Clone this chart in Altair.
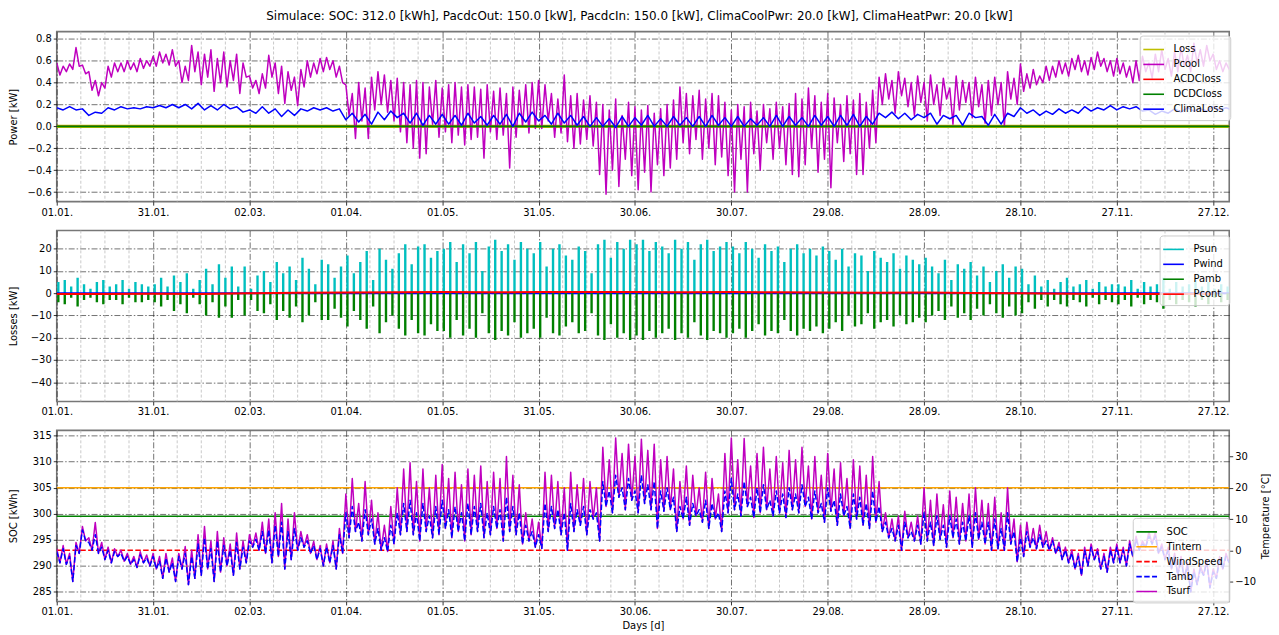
import altair as alt
import pandas as pd

TITLE = ("Simulace: SOC: 312.0 [kWh], PacdcOut: 150.0 [kW], PacdcIn: 150.0 [kW], "
         "ClimaCoolPwr: 20.0 [kW], ClimaHeatPwr: 20.0 [kW]")

X_TICKS = [0, 30, 60, 90, 120, 150, 180, 210, 240, 270, 300, 330, 360]
X_MINOR = [d + k * 7.5 for d in X_TICKS for k in (1, 2, 3) if d + k * 7.5 < 365]
P1_TICKS = [-0.6, -0.4, -0.2, 0.0, 0.2, 0.4, 0.6, 0.8]
P2_TICKS = [-40, -30, -20, -10, 0, 10, 20]
P3_TICKS = [285, 290, 295, 300, 305, 310, 315]
T_TICKS = [-10, 0, 10, 20, 30]

# ---------- panel 1 : Power [kW] (2-day high / low samples) ----------
FLAT_DAYS = [0, 365]
LOSS = [0.0, 0.0]
ACDC = [0.0, 0.0]
DCDC = [0.0, 0.0]

PCOOL_HI = [
    0.58, 0.55, 0.57, 0.72, 0.56, 0.50, 0.42, 0.40, 0.55, 0.58,
    0.58, 0.60, 0.58, 0.62, 0.60, 0.64, 0.68, 0.66, 0.70, 0.60,
    0.55, 0.74, 0.68, 0.66, 0.70, 0.62, 0.68, 0.60, 0.66, 0.58,
    0.46, 0.42, 0.48, 0.65, 0.58, 0.55, 0.50, 0.45, 0.52, 0.60,
    0.58, 0.62, 0.63, 0.60, 0.55,
    0.38, 0.30, 0.40, 0.35, 0.45, 0.50, 0.47, 0.42, 0.44, 0.40,
    0.38, 0.42, 0.40, 0.36, 0.42, 0.35, 0.38, 0.40, 0.36, 0.38,
    0.36, 0.34, 0.38, 0.32, 0.35, 0.30, 0.36, 0.33, 0.38, 0.40,
    0.42, 0.38, 0.30, 0.25, 0.47, 0.28, 0.30, 0.24, 0.28, 0.22,
    0.20, 0.15, 0.25, 0.10, 0.22, 0.18, 0.15, 0.19, 0.12, 0.16,
    0.20, 0.24, 0.36, 0.30, 0.28, 0.33, 0.25, 0.30, 0.28, 0.22,
    0.15, 0.20, 0.18, 0.22, 0.14, 0.20, 0.16, 0.22, 0.18, 0.21,
    0.30, 0.25, 0.35, 0.28, 0.22, 0.30, 0.26, 0.20, 0.28, 0.24,
    0.30, 0.22, 0.33, 0.45, 0.48, 0.42, 0.50, 0.44, 0.40, 0.46,
    0.40, 0.47, 0.38, 0.44, 0.35, 0.46, 0.42, 0.40, 0.45, 0.38,
    0.42, 0.45, 0.40, 0.50, 0.44, 0.57, 0.48, 0.52, 0.46, 0.55,
    0.55, 0.60, 0.58, 0.62, 0.65, 0.60, 0.63, 0.68, 0.62, 0.60,
    0.62, 0.58, 0.55, 0.60, 0.64, 0.58, 0.66, 0.70, 0.62, 0.68,
    0.72, 0.65, 0.76, 0.70, 0.74, 0.66, 0.60, 0.58]
PCOOL_LO = [
    0.47, 0.50, 0.52, 0.55, 0.48, 0.33, 0.28, 0.35, 0.45, 0.50,
    0.50, 0.52, 0.50, 0.53, 0.55, 0.55, 0.58, 0.56, 0.55, 0.40,
    0.42, 0.50, 0.38, 0.45, 0.32, 0.40, 0.36, 0.42, 0.30, 0.45,
    0.35, 0.30, 0.35, 0.45, 0.30, 0.21, 0.33, 0.19, 0.36, 0.45,
    0.48, 0.50, 0.52, 0.45, 0.40,
    0.10, -0.11, 0.05, -0.11, 0.15, 0.20, 0.13, 0.05, -0.05, -0.15,
    -0.20, -0.29, -0.25, 0.02, -0.10, -0.05, -0.15, -0.08, -0.17, -0.12,
    -0.10, -0.29, -0.05, -0.12, -0.08, -0.38, -0.10, 0.00, -0.06, -0.02,
    -0.02, 0.05, -0.10, -0.06, -0.14, -0.20, -0.16, -0.12, -0.18, -0.44,
    -0.62, -0.40, -0.55, -0.30, -0.45, -0.58, -0.42, -0.60, -0.35, -0.45,
    -0.38, -0.30, -0.15, -0.25, -0.12, -0.30, -0.20, -0.35, -0.28, -0.45,
    -0.60, -0.30, -0.60, -0.25, -0.40, -0.15, -0.30, -0.20, -0.35, -0.44,
    -0.46, -0.35, -0.20, -0.42, -0.30, -0.56, -0.15, -0.32, -0.25, -0.44,
    -0.44, -0.20, -0.15, 0.20, 0.25, 0.12, 0.28, 0.18, 0.10, 0.22,
    0.05, 0.20, 0.10, 0.25, 0.02, 0.15, 0.22, 0.08, 0.18, 0.03,
    0.10, 0.20, 0.00, 0.25, 0.20, 0.32, 0.35, 0.38, 0.40, 0.42,
    0.45, 0.48, 0.46, 0.52, 0.50, 0.47, 0.52, 0.55, 0.50, 0.46,
    0.48, 0.45, 0.40, 0.42, 0.50, 0.44, 0.50, 0.52, 0.46, 0.50,
    0.55, 0.50, 0.58, 0.55, 0.60, 0.52, 0.50, 0.52]

# 4-day high / low samples
CLIMA_HI = [
    0.17, 0.18, 0.16, 0.13, 0.17, 0.18, 0.17, 0.18, 0.19, 0.20,
    0.20, 0.21, 0.19, 0.20, 0.18, 0.15, 0.18, 0.16, 0.15, 0.16,
    0.17, 0.17, 0.16, 0.12, 0.11, 0.13, 0.14, 0.12, 0.12, 0.10,
    0.11, 0.10, 0.12, 0.09, 0.10, 0.11, 0.12, 0.13, 0.10, 0.12,
    0.10, 0.09, 0.08, 0.07, 0.09, 0.08, 0.10, 0.07, 0.09, 0.08,
    0.09, 0.10, 0.08, 0.09, 0.07, 0.08, 0.10, 0.09, 0.08, 0.10,
    0.09, 0.10, 0.11, 0.09, 0.12, 0.13, 0.12, 0.11, 0.12, 0.10,
    0.10, 0.12, 0.09, 0.11, 0.12, 0.17, 0.15, 0.14, 0.16, 0.15,
    0.18, 0.17, 0.19, 0.18, 0.18, 0.15, 0.14, 0.16, 0.17, 0.16, 0.18, 0.17]
CLIMA_LO = [
    0.15, 0.15, 0.10, 0.12, 0.15, 0.16, 0.16, 0.17, 0.17, 0.17,
    0.16, 0.15, 0.15, 0.16, 0.13, 0.12, 0.12, 0.09, 0.10, 0.14,
    0.15, 0.14, 0.06, 0.04, 0.02, 0.06, 0.08, 0.03, 0.01, 0.02,
    0.02, 0.01, 0.03, 0.01, 0.02, 0.00, 0.04, 0.05, 0.02, 0.03,
    0.01, 0.00, 0.00, -0.01, 0.00, 0.01, 0.00, 0.00, 0.01, 0.00,
    0.00, 0.01, 0.00, 0.00, 0.01, 0.00, 0.00, 0.01, 0.00, 0.01,
    0.00, 0.01, 0.00, 0.02, 0.08, 0.07, 0.06, 0.08, 0.02, 0.07,
    0.01, 0.08, 0.01, 0.02, 0.09, 0.12, 0.10, 0.11, 0.12, 0.12,
    0.14, 0.15, 0.15, 0.16, 0.14, 0.11, 0.12, 0.13, 0.14, 0.14, 0.15, 0.15]

# ---------- panel 2 : Losses [kW] (peak per 2 days) ----------
PSUN = [
    5, 6, 3, 7, 4, 2, 5, 6, 3, 4, 6, 2, 5, 4, 3,
    4, 7, 3, 8, 5, 9, 2, 6, 11, 4, 13, 7, 12, 3, 12,
    2, 8, 10, 5, 14, 9, 12, 6, 16, 11, 4, 15, 13, 7, 12,
    17, 9, 14, 19, 6, 20, 15, 11, 18, 22, 13, 21, 22, 16, 19,
    20, 23, 14, 22, 18, 23, 10, 21, 24, 19, 22, 15, 23, 20, 18,
    23, 12, 20, 22, 17, 15, 21, 19, 9, 22, 24, 16, 23, 20, 24,
    22, 24, 19, 23, 21, 18, 24, 20, 23, 15, 22, 24, 19, 21, 23,
    21, 18, 23, 20, 16, 22, 19, 21, 14, 20, 22, 18, 20, 17, 21,
    19, 15, 20, 12, 18, 17, 10, 19, 16, 14, 18, 11, 17, 15, 13,
    16, 12, 9, 15, 6, 13, 11, 14, 8, 12, 5, 10, 13, 7, 12,
    11, 4, 8, 3, 6, 2, 5, 7, 3, 4, 6, 2, 5, 3, 4,
    4, 3, 6, 2, 5, 3, 4, 7, 2, 5, 3, 4, 6, 3, 5, 2, 4, 3]
PAMB = [
    -4, -5, -2, -6, -3, -2, -4, -5, -3, -3, -5, -2, -4, -4, -3,
    -4, -6, -3, -8, -5, -9, -2, -5, -10, -4, -11, -6, -11, -3, -10,
    -3, -8, -9, -5, -12, -8, -11, -6, -13, -10, -4, -12, -12, -7, -11,
    -15, -8, -12, -16, -6, -18, -13, -10, -16, -19, -12, -18, -19, -14, -17,
    -17, -20, -12, -19, -16, -20, -9, -18, -21, -17, -19, -13, -20, -18, -16,
    -20, -11, -18, -19, -15, -13, -18, -17, -9, -19, -21, -14, -20, -18, -21,
    -19, -21, -17, -20, -18, -16, -21, -18, -20, -13, -19, -21, -17, -18, -20,
    -18, -16, -20, -17, -14, -19, -17, -18, -12, -17, -19, -16, -17, -15, -18,
    -16, -13, -17, -10, -15, -14, -9, -16, -13, -12, -15, -10, -14, -13, -11,
    -13, -10, -8, -12, -6, -11, -9, -12, -7, -10, -5, -9, -11, -6, -10,
    -9, -4, -7, -3, -6, -3, -5, -6, -3, -4, -6, -2, -5, -3, -4,
    -5, -3, -6, -2, -5, -3, -4, -7, -3, -5, -3, -4, -6, -3, -5, -2, -4, -3]
PWIND = [0.0, 0.0]
PCONT_DAYS = [0, 15, 30, 45, 60, 75, 90, 105, 120, 135, 150, 165, 180,
              195, 210, 225, 240, 255, 270, 285, 300, 315, 330, 345, 360]
PCONT = [-0.3, -0.4, -0.2, -0.3, 0.0, 0.2, 0.3, 0.4, 0.5, 0.4, 0.5, 0.6, 0.5,
         0.4, 0.5, 0.4, 0.3, 0.2, 0.3, 0.1, 0.0, -0.2, -0.3, -0.3, -0.4]

# ---------- panel 3 : SOC [kWh] / Temperature [°C] ----------
SOC = [299.5, 299.5]
TINTERN = [20.0, 20.0]
WIND = [0.0, 0.0]
TSURF_HI = [
    0.5, 1.5, -1, 2.5, 7.6, 4, 8.9, 2.5, 1, 0.5,
    0, -1, -2, -0.5, -1.5, -1, -2, -1, -2.5, -1,
    1.2, 0, 5, 7.6, 3, 6, 4, 2, 5.5, 3,
    5, 5.5, 9, 10, 12, 15, 10, 12, 6, 5,
    2.8, 1.5, 2, 3, 7,
    18, 23, 15, 22, 16, 12, 8, 14, 20, 26,
    28, 22, 26, 20, 24, 27.5, 23, 25, 21, 26,
    24, 27, 22, 25, 23, 30, 24, 21, 12, 10,
    9, 25, 24, 22, 20, 25, 21, 23, 22, 20,
    33, 29, 36, 31, 34, 30, 35.6, 32, 34, 29,
    30, 26, 22, 27, 24, 20, 25, 23, 18, 31,
    36, 29, 35.8, 27, 31, 33, 26, 30, 28, 32,
    29, 33, 27, 30, 24, 31, 26, 28, 23, 29,
    27, 24, 30, 22, 12, 10, 11, 12.5, 9, 11,
    20, 16, 18, 14.6, 19, 17, 15, 18, 20, 16,
    15, 17, 12, 20, 10, 8, 9, 7, 8, 6,
    4, 2.5, 1, 0, -1, 1, 2, 0.5, -1, 1,
    2, 1, 3, 4.5, 3, 6, 5.8, 2, 1, -1,
    -2, -4, -6, -5, -3, -6, -2, -1]
TAMB_HI = [
    -0.5, 0.5, -2, 1.5, 6.5, 2.5, 5, 1, 0, -0.5,
    -1, -2, -3, -1.5, -2.5, -2, -3.5, -2.5, -4, -2,
    -1, -2, 2, 4, 0.5, 3, 1.5, 0, 2.5, 1,
    3, 3.5, 6, 6.5, 8, 9, 6, 7, 4, 3,
    1.5, 0.5, 1, 1.5, 5,
    12, 14, 9, 13, 10, 7, 4, 8, 12, 15,
    16, 12, 15, 11, 14, 16, 13, 14, 12, 15,
    14, 15, 12, 14, 13, 17, 14, 12, 8, 6,
    5, 15, 14, 13, 12, 15, 13, 14, 13, 12,
    22, 19, 24, 20, 23, 19, 24, 21, 22, 19,
    20, 17, 14, 17, 15, 13, 16, 15, 12, 19,
    23, 18, 22, 17, 20, 21, 16, 19, 18, 20,
    18, 21, 17, 19, 15, 20, 16, 18, 14, 18,
    17, 15, 19, 14, 9, 7, 8, 9, 6, 8,
    12, 9, 11, 8, 11, 10, 9, 11, 12, 9,
    9, 10, 7, 12, 6, 4, 6, 4, 5, 3,
    3, 1.5, 0, -1, -2, 0, 1, -0.5, -2, 0,
    1, 0, 2, 3.5, 2, 4.5, 4.5, 1, 0, -2,
    -3, -5, -7, -6, -4, -7, -3, -2]
T_LO = [
    -4, -4.5, -10, -1, 3, 0, -1, -3, -4, -2,
    -3.5, -4.5, -5.5, -4, -5, -6, -9, -7, -10, -6,
    -11, -9, -8, -6, -10, -7, -5, -8, -6, -4,
    1, 0, -1, -4, -2, -6, -3, 0, 1, -1,
    -3, -5, -4, -6, -1,
    4, 6, 3, 5, 2, 0, -0.4, 2, 5, 6,
    5, 3, 6, 4, 5, 7, 4, 6, 3, 5,
    6, 4, 5, 7, 3, 6, 5, 2, 3, 1,
    0.6, 6, 7, 5, 0, 6, 8, 5, 10, 3,
    14, 12, 17, 13, 16, 12, 15, 13, 7, 12.5,
    13, 6, 10, 8, 11, 9, 7, 10, 6, 12,
    13, 11, 14, 10.5, 12, 13, 11, 12, 10.5, 13,
    12, 14, 10, 12, 9, 12.5, 8, 11, 7, 10,
    8, 7, 9, 6, 4, 3, 0, 4, 3, 2,
    3, 1.5, 3.5, 1, 4, 2, 3, 1, 3.5, 2,
    0, 0.5, 0, 2, -3.7, -2, 1, 0.5, 1, 0,
    -1, -3, -4, -6, -8, -5, -3, -6, -7, -4,
    -4, -5, -2, 0, 1, 2, -1, -3, -6, -8,
    -9, -13.3, -11, -8, -12, -9, -6, -4]

N1 = ["Loss", "Pcool", "ACDCloss", "DCDCloss", "ClimaLoss"]
C1 = ["#bfbf00", "#bf00bf", "#ff0000", "#008000", "#0000ff"]
N2 = ["Psun", "Pwind", "Pamb", "Pcont"]
C2 = ["#00bfbf", "#0000ff", "#008000", "#ff0000"]
N3 = ["SOC", "Tintern", "WindSpeed", "Tamb", "Tsurf"]
C3 = ["#008000", "#ffa500", "#ff0000", "#0000ff", "#bf00bf"]
D3 = [[1, 0], [1, 0], [5.5, 2.4], [5.5, 2.4], [1, 0]]


def zig(hi, lo, step, name):
    rows = []
    for i, (h, l) in enumerate(zip(hi, lo)):
        rows.append({"d": i * step, "v": h, "s": name})
        rows.append({"d": i * step + step / 2, "v": l, "s": name})
    return pd.DataFrame(rows)


def flat(days, vals, name):
    return pd.DataFrame({"d": days, "v": vals, "s": name})


def spikes(vals, name):
    return pd.DataFrame({"d": [2 * i + 0.5 for i in range(len(vals))],
                         "v": vals, "v0": [0.0] * len(vals), "s": name})


W = 1179
LABEL_EXPR = "timeFormat(datetime(2023, 0, 1 + datum.value), '%d.%m.')"
XS = alt.Scale(domain=[0, 365], nice=False, zero=False)
GRID = dict(grid=True, gridColor="#222222", gridDash=[6, 2, 1.5, 2],
            gridOpacity=0.7, gridWidth=0.9)


def xe(title=None):
    return alt.X("d:Q", scale=XS,
                 axis=alt.Axis(values=X_TICKS, labelExpr=LABEL_EXPR, title=title,
                               labelFlush=False, **GRID))


def minor(title=None):
    return alt.Chart(pd.DataFrame({"d": X_MINOR})).mark_rule(
        color="#bbbbbb", strokeDash=[3, 2], strokeWidth=0.8).encode(x=xe(title))


def leg(x, y):
    return alt.Legend(title=None, orient="none", legendX=x, legendY=y,
                      symbolType="M-1.55,0H1.55", symbolSize=180,
                      symbolStrokeWidth=1.6,
                      labelFont="DejaVu Sans", labelFontSize=10, labelColor="#000",
                      fillColor="rgba(255,255,255,0.8)", strokeColor="#cccccc",
                      cornerRadius=3, padding=6, rowPadding=2, labelOffset=12)


def ln(df, x, y, color, width=1.5, dash=None):
    enc = dict(x=x, y=y, color=color)
    if dash is not None:
        enc["strokeDash"] = dash
    return alt.Chart(df).mark_line(strokeWidth=width, clip=True,
                                   strokeJoin="round").encode(**enc)


# panel 1
y1 = alt.Y("v:Q", scale=alt.Scale(domain=[-0.688, 0.866], nice=False, zero=False),
           axis=alt.Axis(values=P1_TICKS, format=".1f", title="Power [kW]",
                         titleX=-38, **GRID))
c1 = alt.Color("s:N", scale=alt.Scale(domain=N1, range=C1), legend=leg(1089, 4))
p1 = alt.layer(
    minor(),
    ln(flat(FLAT_DAYS, LOSS, "Loss"), xe(), y1, c1, width=3.2),
    ln(zig(PCOOL_HI, PCOOL_LO, 2, "Pcool"), xe(), y1, c1),
    ln(flat(FLAT_DAYS, ACDC, "ACDCloss"), xe(), y1, c1),
    ln(flat(FLAT_DAYS, DCDC, "DCDCloss"), xe(), y1, c1, width=1.6),
    ln(zig(CLIMA_HI, CLIMA_LO, 4, "ClimaLoss"), xe(), y1, c1),
).properties(width=W, height=171)

# panel 2
y2 = alt.Y("v:Q", scale=alt.Scale(domain=[-48.7, 28.2], nice=False, zero=False),
           axis=alt.Axis(values=P2_TICKS, format="d", title="Losses [kW]",
                         titleX=-38, **GRID))
c2 = alt.Color("s:N", scale=alt.Scale(domain=N2, range=C2), legend=leg(1109, 5))


def rl(df):
    return alt.Chart(df).mark_rule(strokeWidth=2.4, clip=True).encode(
        x=xe(), y=y2, y2=alt.Y2("v0:Q"), color=c2)


p2 = alt.layer(
    minor(),
    rl(spikes(PSUN, "Psun")),
    ln(flat(FLAT_DAYS, PWIND, "Pwind"), xe(), y2, c2, width=2),
    rl(spikes(PAMB, "Pamb")),
    ln(flat(PCONT_DAYS, PCONT, "Pcont"), xe(), y2, c2, width=2),
).properties(width=W, height=172)

# panel 3
y3 = alt.Y("v:Q", scale=alt.Scale(domain=[283.1, 316.0], nice=False, zero=False),
           axis=alt.Axis(values=P3_TICKS, format="d", title="SOC [kWh]",
                         titleX=-38, **GRID))
yt = alt.Y("v:Q", scale=alt.Scale(domain=[-16.4, 38.4], nice=False, zero=False),
           axis=alt.Axis(values=T_TICKS, format="d", title="Temperature [°C]",
                         orient="right", grid=False, titleAngle=-90, titleX=31,
                         titleBaseline="top"))
L3 = leg(1082, 88)
c3 = alt.Color("s:N", scale=alt.Scale(domain=N3, range=C3), legend=L3)
d3 = alt.StrokeDash("s:N", scale=alt.Scale(domain=N3, range=D3), legend=L3)
XT = "Days [d]"
left3 = alt.layer(
    minor(XT),
    ln(flat(FLAT_DAYS, SOC, "SOC"), xe(XT), y3, c3, dash=d3),
)
right3 = alt.layer(
    ln(flat(FLAT_DAYS, TINTERN, "Tintern"), xe(XT), yt, c3, dash=d3),
    ln(flat(FLAT_DAYS, WIND, "WindSpeed"), xe(XT), yt, c3, dash=d3),
    ln(zig(TSURF_HI, T_LO, 2, "Tsurf"), xe(XT), yt, c3, dash=d3),
    ln(zig(TAMB_HI, T_LO, 2, "Tamb"), xe(XT), yt, c3, dash=d3),
)
p3 = alt.layer(left3, right3).resolve_scale(y="independent").properties(
    width=W, height=172)

chart = alt.vconcat(p1, p2, p3, spacing=10).resolve_scale(
    color="independent", strokeDash="independent"
).properties(
    title=alt.Title(TITLE, fontSize=12, font="DejaVu Sans", fontWeight="normal",
                    anchor="middle", offset=7, color="#000"),
    padding={"left": 0, "right": 0, "top": 0, "bottom": 0},
).configure_view(stroke="#777777", strokeWidth=1.6).configure_axis(
    labelFont="DejaVu Sans", labelFontSize=10, labelColor="#000",
    titleFont="DejaVu Sans", titleFontSize=10, titleFontWeight="normal",
    titleColor="#000", tickColor="#000", tickSize=3.5, tickWidth=0.8,
    labelPadding=2, domain=False,
)

chart.save("out.html", embed_options={"renderer": "svg", "actions": False})
